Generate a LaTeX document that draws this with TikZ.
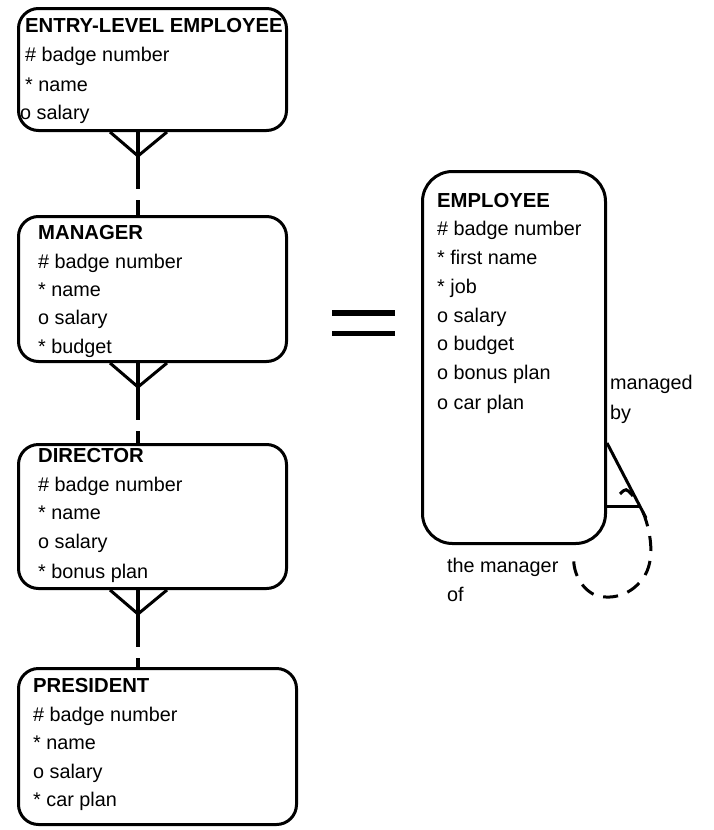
\documentclass[tikz,border=0pt]{standalone}
\usepackage{fontspec}
\setmainfont{Liberation Sans}
\usetikzlibrary{calc}
\begin{document}
\begin{tikzpicture}[x=1bp,y=-1bp,
  entity/.style={draw, line width=3bp, rounded corners=20bp, anchor=north west, inner sep=0pt},
  attr/.style={anchor=base west, inner sep=0pt, font=\fontsize{19.8bp}{24bp}\selectfont},
  ttl/.style={anchor=base west, inner sep=0pt, font=\fontsize{20.3bp}{24bp}\selectfont\bfseries},
  foot/.style={line width=3bp},
  link/.style={line width=4.5bp},
  opt/.style={line width=4.5bp, dash pattern=on 15bp off 11bp, dash phase=15bp},
  loop/.style={line width=3bp, dash pattern=on 15bp off 10bp}]

\fill[white] (0,0) rectangle (714,830);
\useasboundingbox (0,0) rectangle (714,830);

% subtype entities
\node[entity, minimum width=268bp, minimum height=122bp] (ele) at (17,7) {};
\node[entity, minimum width=268bp, minimum height=145bp] (mgr) at (17,215) {};
\node[entity, minimum width=268bp, minimum height=144bp] (dir) at (17,443) {};
\node[entity, minimum width=278bp, minimum height=156bp] (pre) at (17,667) {};

\node[ttl]  (ele-t) at (25,32)  {ENTRY-LEVEL EMPLOYEE};
\node[attr] (ele-a) at (25,61)  {\# badge number};
\node[attr] (ele-b) at (25,91)  {* name};
\node[attr] (ele-c) at (20,119) {o salary};

\node[ttl]  (mgr-t) at (38,239) {MANAGER};
\node[attr] (mgr-a) at (38,268) {\# badge number};
\node[attr] (mgr-b) at (38,296) {* name};
\node[attr] (mgr-c) at (38,324) {o salary};
\node[attr] (mgr-d) at (38,353) {* budget};

\node[ttl]  (dir-t) at (38,462) {DIRECTOR};
\node[attr] (dir-a) at (38,491) {\# badge number};
\node[attr] (dir-b) at (38,519) {* name};
\node[attr] (dir-c) at (38,548) {o salary};
\node[attr] (dir-d) at (38,578) {* bonus plan};

\node[ttl]  (pre-t) at (33,692) {PRESIDENT};
\node[attr] (pre-a) at (33,721) {\# badge number};
\node[attr] (pre-b) at (33,749) {* name};
\node[attr] (pre-c) at (33,778) {o salary};
\node[attr] (pre-d) at (33,806) {* car plan};

% hierarchy links: crow's foot, solid half, dashed half
\foreach \a/\b in {ele/mgr, mgr/dir, dir/pre} {
  \draw[foot] ($(\a.south west)+(93,0)$) -- ($(\a.south west)+(121,24)$) -- ($(\a.south west)+(150,0)$);
  \coordinate (\a-mid) at ($(\a.south west)+(121,57)$);
  \draw[link] ($(\a.south west)+(121,0)$) -- (\a-mid);
  \draw[opt] (\a-mid) -- ($(\b.north west)+(121,0)$);
}

% equals sign
\draw[line width=6bp] (332,313) -- (395,313);
\draw[line width=5bp] (332,333) -- (395,333);

% supertype entity
\node[entity, rounded corners=30bp, minimum width=183bp, minimum height=372bp] (emp) at (421,170) {};
\node[ttl]  (emp-t) at (437,207) {EMPLOYEE};
\node[attr] (emp-a) at (437,235) {\# badge number};
\node[attr] (emp-b) at (437,264) {* first name};
\node[attr] (emp-c) at (437,293) {* job};
\node[attr] (emp-d) at (437,322) {o salary};
\node[attr] (emp-e) at (437,350) {o budget};
\node[attr] (emp-f) at (437,379) {o bonus plan};
\node[attr] (emp-g) at (437,409) {o car plan};

% recursive relationship
\coordinate (r1) at ($(emp.north east)+(0,273)$);
\coordinate (r2) at ($(emp.north east)+(39,348)$);
\coordinate (r3) at ($(emp.north east)+(0,336)$);
\coordinate (r4) at ($(emp.north east)+(33,336)$);
\draw[foot] (r1) -- (r2);
\draw[foot] (r3) -- (r4);
\coordinate (s1) at ($(emp.north east)+(13,324)$);
\coordinate (s2) at ($(emp.north east)+(26,326)$);
\draw[foot] (s1) .. controls ($(emp.north east)+(19,318)$) .. (s2);

\coordinate (l0) at ($(emp.north east)+(36,342)$);
\coordinate (l1) at ($(emp.south east)+(-33,10)$);
\draw[loop] (l0) .. controls (652,535) and (656,565) .. (640,582)
  .. controls (628,596) and (610,600) .. (595,595)
  .. controls (580,588) and (572,570) .. (l1);

\node[attr] (mb1) at (610,389) {managed};
\node[attr] (mb2) at (610,419) {by};
\node[attr] (mo1) at (447,572) {the manager};
\node[attr] (mo2) at (447,601) {of};
\end{tikzpicture}
\end{document}
